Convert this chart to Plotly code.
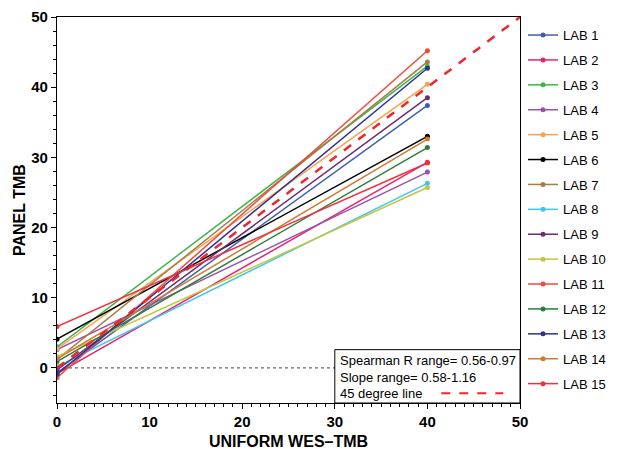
import plotly.graph_objects as go

labs = [f"LAB {i}" for i in range(1, 16)]
x_points = [0, 40]
tmb_low = [-0.7, -0.8, 3.0, 2.6, 2.7, 4.1, 1.2, 0.2, -0.3, 1.6, -1.4, 0.9, -0.9, 1.3, 5.9]
tmb_high = [37.4, 29.3, 43.0, 27.9, 40.4, 33.0, 43.6, 26.3, 38.5, 25.7, 45.2, 31.4, 42.7, 32.6, 29.2]
colors = ["#3F5FAE", "#E5246E", "#3DB54A", "#9B4FB0", "#F9A350", "#000000", "#A67C45",
          "#42C4F0", "#6B2D6E", "#C6C63C", "#EF4A3C", "#2D7B3F", "#2E3192", "#D07A30", "#F0303E"]
identity_x = [0, 50]
identity_y = [0, 50]
x_title = "UNIFORM WES–TMB"
y_title = "PANEL TMB"

fig = go.Figure()

# zero reference dotted line
fig.add_trace(go.Scatter(x=[0, 50], y=[0, 0], mode="lines",
                         line=dict(color="#444444", width=1, dash="dot"),
                         showlegend=False, hoverinfo="skip"))

for name, lo, hi, c in zip(labs, tmb_low, tmb_high, colors):
    fig.add_trace(go.Scatter(x=x_points, y=[lo, hi], mode="lines+markers", name=name,
                             legendgroup=name,
                             line=dict(color=c, width=1.5),
                             marker=dict(color=c, size=5)))

fig.add_trace(go.Scatter(x=identity_x, y=identity_y, mode="lines",
                         line=dict(color="#F0262A", width=2.5, dash="dash"),
                         showlegend=False, hoverinfo="skip"))

font_family = "Liberation Sans, Arial, sans-serif"

# the page body adds an 8px offset; margins are set so the plot lands where the reference has it
fig.update_layout(
    width=617, height=449,
    margin=dict(l=49, r=105, t=9, b=54),
    paper_bgcolor="white", plot_bgcolor="white",
    font=dict(family=font_family, color="black"),
    showlegend=True,
    legend=dict(x=1.0065, y=0.992, xanchor="left", yanchor="top",
                font=dict(size=13, family=font_family, color="black"),
                itemwidth=30, bgcolor="rgba(0,0,0,0)", tracegroupgap=5),
    xaxis=dict(range=[0, 50], tickvals=[0, 10, 20, 30, 40, 50], automargin=False,
               showgrid=False, zeroline=False, showline=True, linecolor="black", linewidth=1.2,
               mirror=True, ticks="outside", ticklen=5, tickcolor="black",
               minor=dict(dtick=1, ticks="outside", ticklen=3, tickcolor="black"),
               tickfont=dict(size=15, family=font_family, color="black", weight="bold")),
    yaxis=dict(range=[-5, 50], tickvals=[0, 10, 20, 30, 40, 50], automargin=False,
               showgrid=False, zeroline=False, showline=True, linecolor="black", linewidth=1.2,
               mirror=True, ticks="outside", ticklen=5, tickcolor="black",
               minor=dict(dtick=2, ticks="outside", ticklen=3, tickcolor="black"),
               tickfont=dict(size=15, family=font_family, color="black", weight="bold")),
)

# axis titles
fig.add_annotation(xref="paper", yref="paper", x=0.5, y=-0.101, text=x_title, showarrow=False,
                   xanchor="center", yanchor="middle",
                   font=dict(size=16, family=font_family, color="black", weight="bold"))
fig.add_annotation(xref="paper", yref="paper", x=-0.082, y=0.5, text=y_title, showarrow=False,
                   textangle=-90, xanchor="center", yanchor="middle",
                   font=dict(size=16, family=font_family, color="black", weight="bold"))

# statistics box
fig.add_shape(type="rect", xref="x", yref="y", x0=30, x1=50, y0=-5, y1=2.6,
              line=dict(color="black", width=1), fillcolor="white", layer="above")
box_lines = ["Spearman R range= 0.56-0.97", "Slope range= 0.58-1.16", "45 degree line"]
for i, t in enumerate(box_lines):
    fig.add_annotation(xref="x", yref="y", x=30.3, y=1.0 - i * 2.35, text=t, showarrow=False,
                       xanchor="left", yanchor="middle",
                       font=dict(size=13, family=font_family, color="black"))
fig.add_shape(type="line", xref="x", yref="y", x0=41.5, x1=48.2, y0=-3.6, y1=-3.6,
              line=dict(color="#F0262A", width=2, dash="dash"), layer="above")

fig.write_html("out.html")
